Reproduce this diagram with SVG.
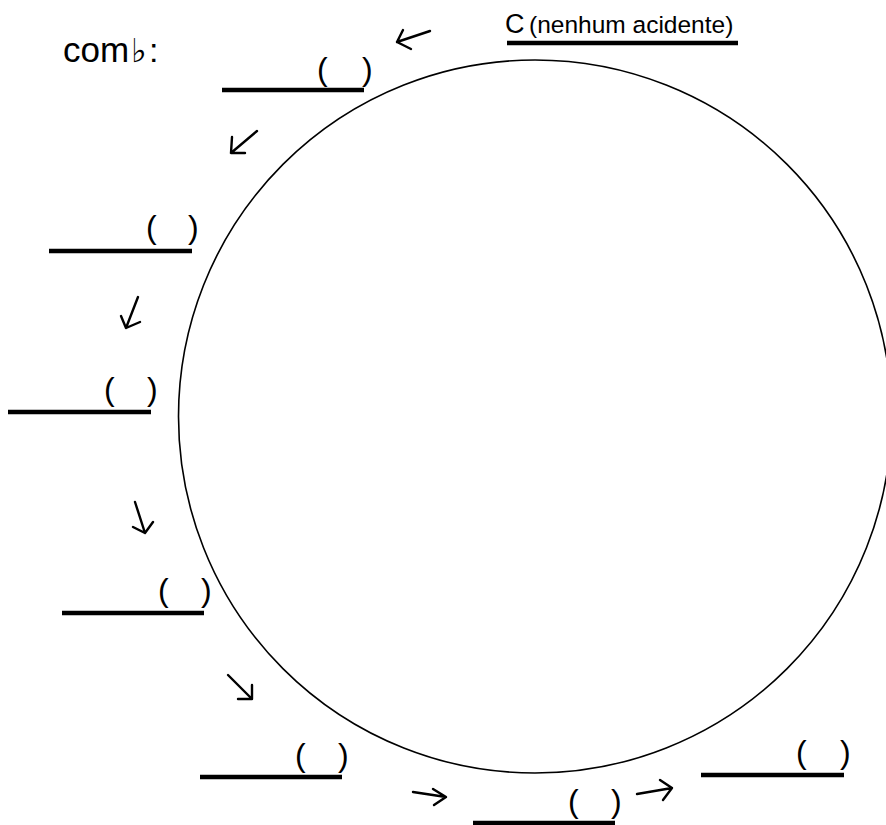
<svg xmlns="http://www.w3.org/2000/svg" width="886" height="825" viewBox="0 0 886 825">
<style>
  .bg { fill: #ffffff; }
  .ring { fill: none; stroke: #000; stroke-width: 1.6; }
  .blank { stroke: #000; stroke-width: 4.3; }
  .par { font-family: "Liberation Sans", Arial, sans-serif; font-size: 32px; fill: #000; }
  .lbl { font-family: "Liberation Sans", Arial, sans-serif; fill: #000; }
  .arr { fill: none; stroke: #000; stroke-width: 2.4; stroke-linecap: round; stroke-linejoin: round; }
</style>
<rect class="bg" x="0" y="0" width="886" height="825"/>
<circle class="ring" cx="535" cy="416.5" r="356.5"/>

<g id="title">
  <text class="lbl" x="63" y="62" font-size="35">com<tspan font-family="DejaVu Sans, sans-serif" font-size="33" x="131" y="62">♭</tspan><tspan font-size="34" x="149" y="62">:</tspan></text>
</g>

<g id="start-C">
  <text class="lbl" x="505" y="33" font-size="27">C<tspan font-size="24.5" x="529">(nenhum acidente)</tspan></text>
  <line class="blank" x1="507" y1="43" x2="738" y2="43"/>
</g>

<g id="n1">
  <line class="blank" x1="222" y1="90" x2="364" y2="90"/>
  <text class="par"><tspan x="317" y="80">(</tspan><tspan x="362" y="80">)</tspan></text>
</g>
<g id="n2">
  <line class="blank" x1="49" y1="251" x2="192" y2="251"/>
  <text class="par"><tspan x="146" y="238">(</tspan><tspan x="188" y="238">)</tspan></text>
</g>
<g id="n3">
  <line class="blank" x1="8" y1="412" x2="151" y2="412"/>
  <text class="par"><tspan x="104" y="400">(</tspan><tspan x="147" y="400">)</tspan></text>
</g>
<g id="n4">
  <line class="blank" x1="62" y1="613" x2="204" y2="613"/>
  <text class="par"><tspan x="158" y="601">(</tspan><tspan x="201" y="601">)</tspan></text>
</g>
<g id="n5">
  <line class="blank" x1="200" y1="777" x2="342" y2="777"/>
  <text class="par"><tspan x="295" y="766">(</tspan><tspan x="338" y="766">)</tspan></text>
</g>
<g id="n6">
  <line class="blank" x1="473" y1="823" x2="615" y2="823"/>
  <text class="par"><tspan x="568" y="812">(</tspan><tspan x="611" y="812">)</tspan></text>
</g>
<g id="n7">
  <line class="blank" x1="701" y1="775" x2="844" y2="775"/>
  <text class="par"><tspan x="796" y="763">(</tspan><tspan x="840" y="763">)</tspan></text>
</g>

<g id="connectors">
  <path class="arr" d="M430 31 L397 42 M403 30 L397 42 L411 49"/>
  <path class="arr" d="M257 131 L231 153 M232 137 L231 153 L245 153"/>
  <path class="arr" d="M138 297 L126 328 M121 316 L126 328 L140 322"/>
  <path class="arr" d="M135 502 L145 533 M133 527 L145 533 L153 522"/>
  <path class="arr" d="M228 675 L252 699 M252 685 L252 699 L238 699"/>
  <path class="arr" d="M413 792 L446 797 M433 789 L446 797 L434 805"/>
  <path class="arr" d="M637 794 L672 788 M660 780 L672 788 L663 800"/>
</g>
</svg>
